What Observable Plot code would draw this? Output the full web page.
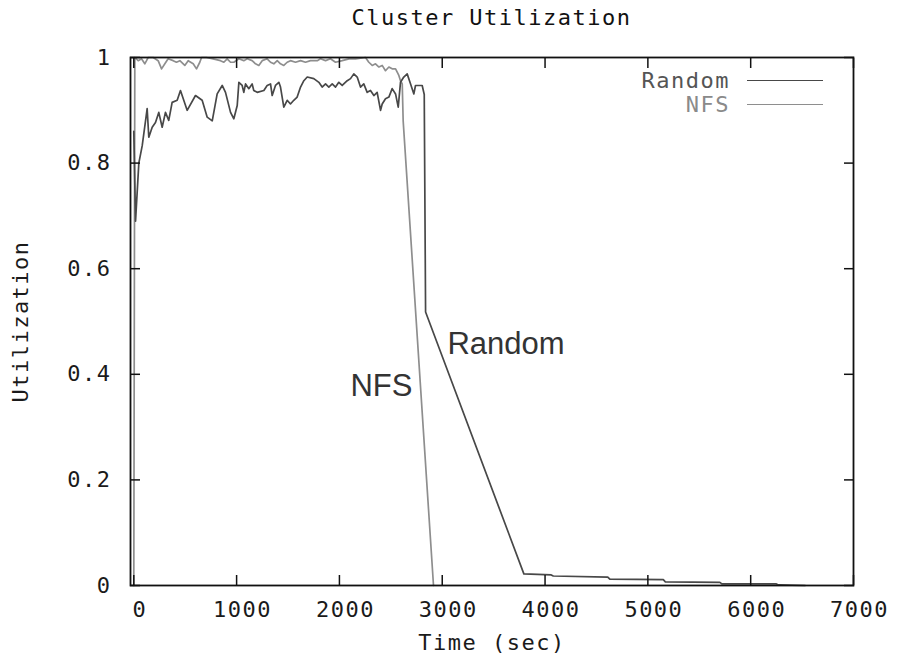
<!DOCTYPE html>
<html><head><meta charset="utf-8">
<script src="https://cdn.jsdelivr.net/npm/d3@7"></script>
<script src="https://cdn.jsdelivr.net/npm/@observablehq/plot@0.6"></script>
<style>
body{margin:0;background:#fff;}
#wrap{position:relative;width:898px;height:662px;overflow:hidden;}
#title{height:36px;line-height:36px;font-family:"DejaVu Sans Mono";font-size:22px;letter-spacing:1.5px;text-align:center;margin-left:130px;width:723px;color:#111;}
g[aria-label="x-axis tick label"] text, g[aria-label="y-axis tick label"] text,
g[aria-label="x-axis label"] text, g[aria-label="y-axis label"] text{letter-spacing:1.5px;}
.leg{position:absolute;font-family:"DejaVu Sans Mono";font-size:22px;letter-spacing:1.5px;text-align:right;width:200px;line-height:22px;}
.legline{position:absolute;height:0;width:76px;}
</style>
</head><body>
<div id="wrap">
<div id="title"></div>
<div id="chart"></div>
<div id="legend"></div>
</div>
<script>
const titleText = "Cluster Utilization";
const xLabel = "Time (sec)";
const yLabel = "Utilization";
const xTicks = [0, 1000, 2000, 3000, 4000, 5000, 6000, 7000];
const xTickLabels = ["0", "1000", "2000", "3000", "4000", "5000", "6000", "7000"];
const yTicks = [0, 0.2, 0.4, 0.6, 0.8, 1];
const yTickLabels = ["0", "0.2", "0.4", "0.6", "0.8", "1"];
const seriesNames = ["Random", "NFS"];
const seriesColors = ["#484848", "#8e8e8e"];

const randomTime = [0, 17, 49, 82, 130, 146, 179, 211, 243, 276, 308, 340, 373, 422, 454, 519, 600, 665, 714, 763, 811, 860, 892, 941, 973, 1006, 1022, 1054, 1070, 1087, 1119, 1151, 1167, 1200, 1265, 1297, 1330, 1346, 1378, 1411, 1427, 1459, 1492, 1524, 1556, 1589, 1622, 1654, 1687, 1751, 1800, 1832, 1865, 1897, 1930, 1962, 1994, 2027, 2076, 2108, 2140, 2173, 2205, 2237, 2270, 2302, 2335, 2367, 2400, 2416, 2448, 2481, 2513, 2546, 2572, 2594, 2626, 2659, 2692, 2724, 2740, 2805, 2825, 2838, 3794, 4060, 4080, 4610, 4630, 5150, 5170, 5700, 5720, 6250, 6270, 6530];
const randomUtil = [0.86, 0.69, 0.80, 0.833, 0.903, 0.849, 0.868, 0.877, 0.896, 0.868, 0.896, 0.881, 0.915, 0.919, 0.9375, 0.90, 0.928, 0.919, 0.887, 0.88, 0.931, 0.947, 0.934, 0.896, 0.884, 0.909, 0.953, 0.947, 0.934, 0.95, 0.941, 0.95, 0.9375, 0.934, 0.9375, 0.947, 0.95, 0.928, 0.947, 0.953, 0.944, 0.906, 0.919, 0.912, 0.919, 0.925, 0.944, 0.956, 0.963, 0.96, 0.953, 0.944, 0.95, 0.944, 0.95, 0.944, 0.953, 0.947, 0.956, 0.96, 0.969, 0.963, 0.944, 0.95, 0.934, 0.9375, 0.928, 0.934, 0.90, 0.912, 0.922, 0.925, 0.941, 0.931, 0.906, 0.953, 0.963, 0.969, 0.95, 0.931, 0.947, 0.947, 0.93, 0.518, 0.022, 0.02, 0.018, 0.016, 0.012, 0.011, 0.007, 0.006, 0.003, 0.003, 0.001, 0.0];

const nfsTime = [0, 10, 43, 75, 107, 124, 140, 189, 237, 270, 302, 334, 383, 415, 448, 496, 529, 578, 610, 642, 659, 707, 772, 843, 876, 908, 941, 973, 1022, 1070, 1103, 1151, 1184, 1216, 1249, 1297, 1330, 1362, 1395, 1427, 1459, 1492, 1524, 1573, 1622, 1670, 1719, 1784, 1816, 1865, 1913, 1962, 2027, 2092, 2157, 2254, 2286, 2319, 2351, 2384, 2416, 2448, 2481, 2513, 2546, 2578, 2594, 2611, 2620, 2915];
const nfsUtil = [0, 1.0, 0.994, 0.9975, 0.988, 0.994, 1.0, 1.0, 0.994, 0.9785, 0.988, 0.9975, 0.994, 0.991, 0.994, 0.985, 0.994, 0.988, 0.9785, 0.991, 1.0, 1.0, 0.9975, 0.994, 0.991, 0.9975, 0.991, 0.991, 0.9975, 0.994, 0.9975, 0.994, 0.988, 0.985, 0.994, 0.9975, 0.991, 0.988, 0.994, 0.988, 0.985, 0.991, 0.994, 0.991, 0.994, 0.991, 0.994, 0.994, 0.9975, 0.994, 0.9975, 0.991, 0.994, 0.9975, 0.9975, 1.0, 0.991, 0.985, 0.988, 0.982, 0.985, 0.975, 0.982, 0.9785, 0.9785, 0.966, 0.956, 0.95, 0.88, 0.0];

const annotationLabels = ["Random", "NFS"];
const annotationTime = [3051, 2107];
const annotationUtil = [0.458, 0.377];

const randomData = randomTime.map((t, i) => ({t, v: randomUtil[i]}));
const nfsData = nfsTime.map((t, i) => ({t, v: nfsUtil[i]}));
const annotations = annotationLabels.map((label, i) => ({label, t: annotationTime[i], v: annotationUtil[i]}));

document.getElementById("title").textContent = titleText;

const xFmt = d => xTickLabels[xTicks.indexOf(d)];
const yFmt = d => yTickLabels[yTicks.indexOf(d)];

const chart = Plot.plot({
  width: 898,
  height: 626,
  marginTop: 21,
  marginBottom: 77,
  marginLeft: 130,
  marginRight: 45,
  style: {fontFamily: "DejaVu Sans Mono", fontSize: "22px", color: "#1a1a1a", background: "#fff", overflow: "visible"},
  x: {domain: [-32, 7000], label: null},
  y: {domain: [0, 1], label: null},
  marks: [
    Plot.line(nfsData, {x: "t", y: "v", stroke: seriesColors[1], strokeWidth: 1.7}),
    Plot.line(randomData, {x: "t", y: "v", stroke: seriesColors[0], strokeWidth: 1.7}),
    Plot.text(annotations, {x: "t", y: "v", text: "label", textAnchor: "start", fontFamily: "Liberation Sans", fontSize: 31, fill: "#333"}),
    Plot.axisX({anchor: "bottom", ticks: xTicks, tickSize: 0, tickPadding: 16, tickFormat: xFmt, dx: 6, label: xLabel, labelAnchor: "center", labelOffset: 64, labelArrow: "none"}),
    Plot.axisX({anchor: "bottom", ticks: xTicks, tickSize: -10, tickFormat: () => "", label: null, stroke: "#111", strokeWidth: 1.5}),
    Plot.axisX({anchor: "top", ticks: xTicks, tickSize: -10, tickFormat: () => "", label: null, stroke: "#111", strokeWidth: 1.5}),
    Plot.axisY({anchor: "left", ticks: yTicks, tickSize: 0, tickPadding: 19, tickFormat: yFmt, label: yLabel, labelAnchor: "center", labelOffset: 118, labelArrow: "none"}),
    Plot.axisY({anchor: "left", ticks: yTicks, tickSize: -10, tickFormat: () => "", label: null, stroke: "#111", strokeWidth: 1.5}),
    Plot.axisY({anchor: "right", ticks: yTicks, tickSize: -10, tickFormat: () => "", label: null, stroke: "#111", strokeWidth: 1.5}),
    Plot.frame({stroke: "#111", strokeWidth: 1.8})
  ]
});
document.getElementById("chart").appendChild(chart);

// legend (top-right, inside the frame)
const legend = document.getElementById("legend");
const legTextRight = 730, legLineLeft = 747, legTop = 70, legStep = 24;
seriesNames.forEach((name, i) => {
  const t = document.createElement("div");
  t.className = "leg";
  t.textContent = name;
  t.style.left = (legTextRight - 200) + "px";
  t.style.top = (legTop + i * legStep) + "px";
  t.style.color = i === 0 ? "#555" : "#8a8a8a";
  legend.appendChild(t);
  const l = document.createElement("div");
  l.className = "legline";
  l.style.left = legLineLeft + "px";
  l.style.top = (legTop + 10 + i * legStep) + "px";
  l.style.borderTop = "1.6px solid " + seriesColors[i];
  legend.appendChild(l);
});
</script>
</body></html>
